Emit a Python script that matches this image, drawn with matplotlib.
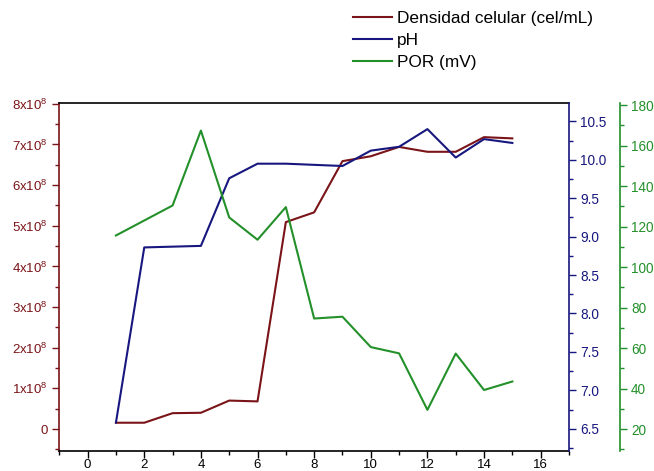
import numpy as np
import matplotlib.pyplot as plt
from matplotlib.ticker import MultipleLocator, FuncFormatter

plt.rcParams['font.family'] = ['Liberation Sans', 'DejaVu Sans']
plt.rcParams['mathtext.fontset'] = 'custom'
plt.rcParams['mathtext.rm'] = 'Liberation Sans'
plt.rcParams['mathtext.it'] = 'Liberation Sans'

# ---------------------------------------------------------
# DATA
# ---------------------------------------------------------
dias = [1, 2, 3, 4, 5, 6, 7, 8, 9, 10, 11, 12, 13, 14, 15]
densidad = [0.155e8, 0.155e8, 0.39e8, 0.40e8, 0.70e8, 0.68e8, 5.09e8, 5.33e8,
            6.59e8, 6.71e8, 6.94e8, 6.82e8, 6.82e8, 7.18e8, 7.15e8]
ph = [6.58, 8.86, 8.87, 8.88, 9.76, 9.95, 9.95, 9.935,
      9.92, 10.12, 10.17, 10.40, 10.03, 10.27, 10.22]
por = [115.6, 123.0, 130.4, 167.4, 124.5, 113.5, 129.6, 74.6,
       75.5, 60.5, 57.4, 29.5, 57.3, 39.3, 43.5]

labels = ['Densidad celular (cel/mL)', 'pH', 'POR (mV)']

c_red = '#7a1418'
c_blue = '#17177f'
c_green = '#23902a'

fig = plt.figure(figsize=(6.54, 4.71), dpi=100)
ax = fig.add_axes([0.0907, 0.0425, 0.7793, 0.7388])
ax2 = ax.twinx()
ax3 = ax.twinx()

l1, = ax.plot(dias, densidad, color=c_red, lw=1.5)
l2, = ax2.plot(dias, ph, color=c_blue, lw=1.5)
l3, = ax3.plot(dias, por, color=c_green, lw=1.5)

# x axis
ax.set_xlim(-1, 17)
ax.xaxis.set_major_locator(MultipleLocator(2))
ax.xaxis.set_minor_locator(MultipleLocator(1))

# left axis
ax.set_ylim(-0.54e8, 8.02e8)
ax.yaxis.set_major_locator(MultipleLocator(1e8))
ax.yaxis.set_minor_locator(MultipleLocator(0.5e8))
def fmt_sci(v, pos):
    n = int(round(v / 1e8))
    return '0' if n == 0 else '%dx10$^{8}$' % n
ax.yaxis.set_major_formatter(FuncFormatter(fmt_sci))

# pH axis
ax2.set_ylim(6.21, 10.74)
ax2.yaxis.set_major_locator(MultipleLocator(0.5))
ax2.yaxis.set_minor_locator(MultipleLocator(0.25))
ax2.yaxis.set_major_formatter(FuncFormatter(lambda v, p: '%.1f' % v))

# POR axis
ax3.set_ylim(9.2, 181)
ax3.yaxis.set_major_locator(MultipleLocator(20))
ax3.yaxis.set_minor_locator(MultipleLocator(10))
ax3.spines['right'].set_position(('outward', 36.7))

for a in (ax, ax2, ax3):
    for s in a.spines.values():
        s.set_linewidth(1.2)

ax.spines['left'].set_color(c_red)
ax.spines['right'].set_visible(False)
ax2.spines['left'].set_visible(False)
ax2.spines['top'].set_visible(False)
ax2.spines['bottom'].set_visible(False)
ax2.spines['right'].set_color(c_blue)
for s in ('left', 'top', 'bottom'):
    ax3.spines[s].set_visible(False)
ax3.spines['right'].set_color(c_green)

ax.tick_params(axis='x', which='both', direction='out', top=False, colors='black',
               labelsize=9.5, width=1.0)
ax.tick_params(axis='x', which='major', length=5, pad=1)
ax.tick_params(axis='x', which='minor', length=3)
ax.tick_params(axis='y', which='both', direction='out', colors=c_red,
               labelsize=9.5, width=1.0)
ax.tick_params(axis='y', which='major', length=5)
ax.tick_params(axis='y', which='minor', length=3)
for a, c in ((ax2, c_blue), (ax3, c_green)):
    a.tick_params(axis='y', which='both', direction='out', colors=c,
                  labelsize=9.8, width=1.0)
    a.tick_params(axis='y', which='major', length=5, pad=3)
    a.tick_params(axis='y', which='minor', length=3)

fig.legend([l1, l2, l3], labels, loc='upper left',
           bbox_to_anchor=(353 / 654, 1 - 11 / 471), frameon=False,
           fontsize=12.4, handlelength=2.27, handletextpad=0.3,
           labelspacing=0.39, borderpad=0, borderaxespad=0)

fig.savefig('out.png', dpi=100)
